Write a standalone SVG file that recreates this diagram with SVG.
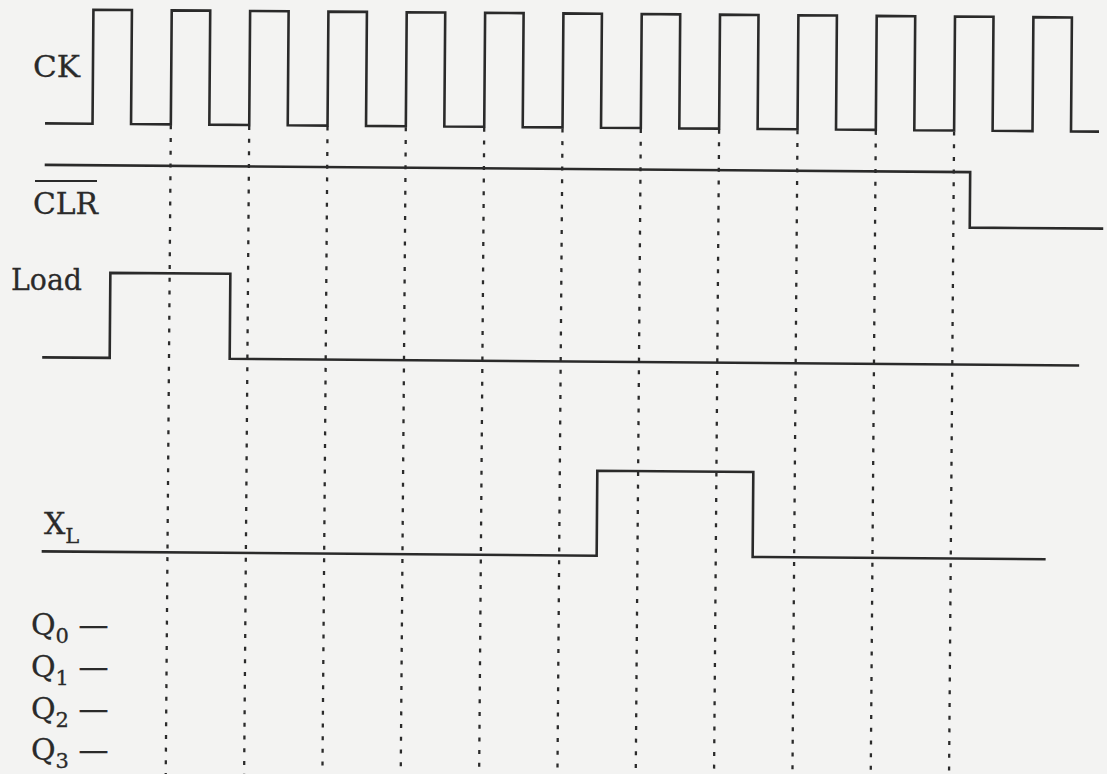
<svg xmlns="http://www.w3.org/2000/svg" width="1107" height="774" viewBox="0 0 1107 774">
  <style>
    .wave { fill: none; stroke: #2a2a2a; stroke-width: 2.6; stroke-linejoin: miter; }
    .guide { stroke: #2a2a2a; stroke-width: 2.3; stroke-dasharray: 4 8.7; }
    .lbl { font-family: "DejaVu Serif", "Liberation Serif", serif; font-size: 30px; fill: #2a2a2a; stroke: #2a2a2a; stroke-width: 0.3; }
    .sub { font-size: 21px; }
  </style>
  <rect width="1107" height="774" fill="#f3f3f2"/>
  <g transform="rotate(0.45)">
    <g id="connectors">
      <line class="guide" x1="171.8" y1="124" x2="171.8" y2="790"/>
      <line class="guide" x1="250.2" y1="124" x2="250.2" y2="790"/>
      <line class="guide" x1="328.5" y1="124" x2="328.5" y2="790"/>
      <line class="guide" x1="406.8" y1="124" x2="406.8" y2="790"/>
      <line class="guide" x1="485.2" y1="124" x2="485.2" y2="790"/>
      <line class="guide" x1="563.5" y1="124" x2="563.5" y2="790"/>
      <line class="guide" x1="641.8" y1="124" x2="641.8" y2="790"/>
      <line class="guide" x1="720.1" y1="124" x2="720.1" y2="790"/>
      <line class="guide" x1="798.5" y1="124" x2="798.5" y2="790"/>
      <line class="guide" x1="876.8" y1="124" x2="876.8" y2="790"/>
      <line class="guide" x1="955.1" y1="124" x2="955.1" y2="790"/>
    </g>
    <g id="ck-wave">
      <path class="wave" d="M46,123 H93.5 V9 H132 V123 H171.8 V9 H210.3 V123 H250.2 V9 H288.7 V123 H328.5 V9 H367 V123 H406.8 V9 H445.3 V123 H485.2 V9 H523.7 V123 H563.5 V9 H602 V123 H641.8 V9 H680.3 V123 H720.1 V9 H758.6 V123 H798.5 V9 H837 V123 H876.8 V9 H915.3 V123 H955.1 V9 H993.6 V123 H1033.5 V9 H1072 V123 H1100"/>
    </g>
    <g id="clr-wave">
      <path class="wave" d="M46,164.5 H971.5 V220 H1105"/>
    </g>
    <g id="load-wave">
      <path class="wave" d="M45,357 H112.5 V272 H232.5 V357 H1082"/>
    </g>
    <g id="xl-wave">
      <path class="wave" d="M46,551 H601 V466 H757 V551 H1050"/>
    </g>
  </g>
  <g id="ck-label">
    <text class="lbl" x="33" y="77" textLength="47" lengthAdjust="spacingAndGlyphs">CK</text>
  </g>
  <g id="clr-label">
    <line x1="35" y1="181" x2="97" y2="181" stroke="#2a2a2a" stroke-width="2.2"/>
    <text class="lbl" x="33" y="214" textLength="65" lengthAdjust="spacingAndGlyphs">CLR</text>
  </g>
  <g id="load-label">
    <text class="lbl" x="11" y="290" textLength="71" lengthAdjust="spacingAndGlyphs">Load</text>
  </g>
  <g id="xl-label">
    <text class="lbl" x="44" y="534">X<tspan class="sub" dy="9">L</tspan></text>
  </g>
  <g id="q0-label">
    <text class="lbl" x="31" y="635">Q<tspan class="sub" dy="8">0</tspan><tspan dy="-8"> —</tspan></text>
  </g>
  <g id="q1-label">
    <text class="lbl" x="31" y="677">Q<tspan class="sub" dy="8">1</tspan><tspan dy="-8"> —</tspan></text>
  </g>
  <g id="q2-label">
    <text class="lbl" x="31" y="719">Q<tspan class="sub" dy="8">2</tspan><tspan dy="-8"> —</tspan></text>
  </g>
  <g id="q3-label">
    <text class="lbl" x="31" y="760">Q<tspan class="sub" dy="8">3</tspan><tspan dy="-8"> —</tspan></text>
  </g>
</svg>
